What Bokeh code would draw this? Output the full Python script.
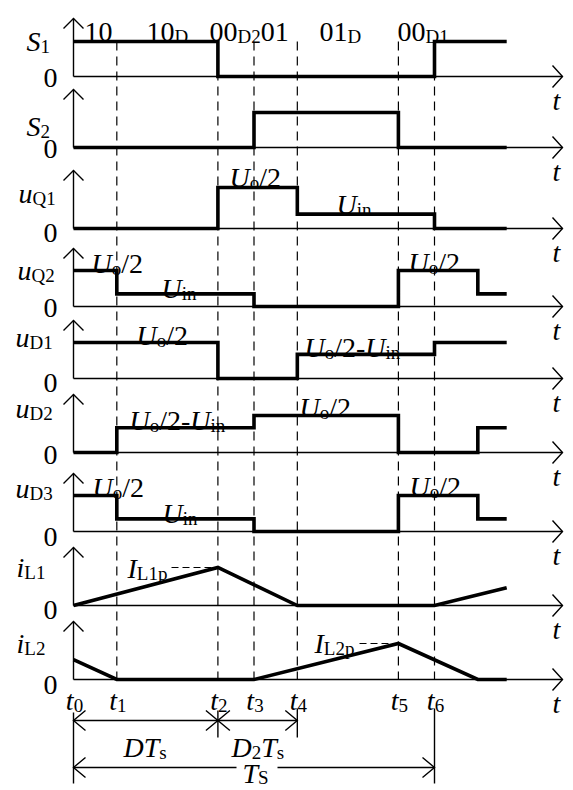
import re
from bokeh.plotting import figure
from bokeh.models import Range1d, ColumnDataSource
from bokeh.core.properties import value
from bokeh.embed import file_html
from bokeh.resources import INLINE

# ------------------------------------------------------------------ data
# switching instants t0..t6, then the unlabeled t7 and the end of the trace
t_names = ["0", "1", "2", "3", "4", "5", "6"]
t_pts = [0.0, 0.12, 0.40, 0.50, 0.62, 0.90, 1.00, 1.12, 1.20]

Uo2 = 1.0     # Uo/2
Uin = 0.35    # Uin
Udf = 0.67    # Uo/2 - Uin

# levels for each interval [t_k, t_k+1]
S1 = [1, 1, 0, 0, 0, 0, 1, 1]
S2 = [0, 0, 0, 1, 1, 0, 0, 0]
uQ1 = [0, 0, Uo2, Uo2, Uin, Uin, 0, 0]
uQ2 = [Uo2, Uin, Uin, 0, 0, Uo2, Uo2, Uin]
uD1 = [Uo2, Uo2, 0, 0, Udf, Udf, Uo2, Uo2]
uD2 = [0, Udf, Udf, Uo2, Uo2, 0, 0, Udf]
uD3 = [Uo2, Uin, Uin, 0, 0, Uo2, Uo2, Uin]

iL1_t = [0.0, 0.40, 0.62, 1.00, 1.20]
iL1 = [0.0, 1.0, 0.0, 0.0, 0.47]
iL2_t = [0.0, 0.12, 0.50, 0.90, 1.12, 1.20]
iL2 = [0.55, 0.0, 0.0, 1.0, 0.0, 0.0]

mode_labels = ["10", "10_{D}", "00_{D2}01", "01_{D}", "00_{D1}"]
row_labels = ["S_{1}", "S_{2}", "u_{Q1}", "u_{Q2}", "u_{D1}", "u_{D2}", "u_{D3}", "i_{L1}", "i_{L2}"]
step_rows = [S1, S2, uQ1, uQ2, uD1, uD2, uD3]

# ------------------------------------------------------------------ layout (page pixels)
X0, KX = 73.0, 361.0          # page x of t0, pixels per unit time
def tx(px):
    return (px - X0) / KX

W, H = 573, 790
base = [76, 147, 228, 306, 378, 452, 531, 605, 679]
amp = [35, 35, 41, 36, 36, 37, 36, 38, 36]
label_y = [41, 126, 193, 270, 337, 408, 488, 567, 643]
label_x = [26, 26, 18, 17, 15, 15, 15, 16, 16]
zero_y = [77, 148, 232, 307, 382, 454, 536, 609, 684]
AX_H = 58
AX_END = 562

FONT = value("Liberation Serif")
FS, SS = 28, 19
BLACK = "#000000"

p = figure(width=W, height=H, x_range=Range1d(tx(0), tx(W)),
           y_range=Range1d(H, 0), output_backend="svg", toolbar_location=None,
           min_border=0, x_axis_type=None, y_axis_type=None,
           outline_line_color=None, background_fill_color="white")
p.xgrid.visible = False
p.ygrid.visible = False

# ------------------------------------------------------------------ dashed guides
gx, gy = [], []
for k in range(1, 7):
    gx.append([t_pts[k], t_pts[k]])
    gy.append([41, base[-1]])
p.multi_line(gx, gy, line_color=BLACK, line_width=1.2, line_dash="9 6")

# ------------------------------------------------------------------ axes
def head(xt, y, direction, L=10, Hh=10):
    d = L / KX
    if direction == "up":
        e = Hh / KX
        return [xt - e, xt, xt + e], [y + L, y, y + L]
    if direction == "right":
        return [xt - d, xt, xt - d], [y - Hh, y, y + Hh]
    if direction == "left":
        return [xt + d, xt, xt + d], [y - Hh, y, y + Hh]

ax_x, ax_y = [], []
for b in base:
    ax_x.append([0, 0]); ax_y.append([b, b - AX_H])
    ax_x.append([0, tx(AX_END)]); ax_y.append([b, b])
    hx, hy = head(0, b - AX_H, "up", 10, 10)
    ax_x.append(hx); ax_y.append(hy)
    hx, hy = head(tx(AX_END), b, "right", 10, 11)
    ax_x.append(hx); ax_y.append(hy)
p.multi_line(ax_x, ax_y, line_color=BLACK, line_width=1.4, line_join="miter")

# ------------------------------------------------------------------ waveforms
for r, lev in enumerate(step_rows):
    ys = [base[r] - amp[r] * v for v in lev] + [base[r] - amp[r] * lev[-1]]
    p.step(t_pts, ys, mode="after", line_color=BLACK, line_width=3.6, line_join="miter")

for r, (tt, vv) in zip([7, 8], [(iL1_t, iL1), (iL2_t, iL2)]):
    p.line(tt, [base[r] - amp[r] * v for v in vv], line_color=BLACK, line_width=3.6,
           line_join="miter")

# peak markers
pk_x = [[tx(171), iL1_t[1]], [tx(359), iL2_t[3]]]
pk_y = [[base[7] - amp[7] * iL1[1]] * 2, [base[8] - amp[8] * iL2[3]] * 2]
p.multi_line(pk_x, pk_y, line_color=BLACK, line_width=1.2, line_dash="7 4")

# ------------------------------------------------------------------ dimension lines
t0, t2, t4, t6 = t_pts[0], t_pts[2], t_pts[4], t_pts[6]
dx, dy = [], []
dx.append([t0, t4]); dy.append([720, 720])
dx.append([t0, tx(236)]); dy.append([767, 767])
dx.append([tx(277), t6]); dy.append([767, 767])
for xt, y1, y2 in [(t0, 712, 783), (t2, 710, 737), (t4, 708, 737), (t6, 708, 783)]:
    dx.append([xt, xt]); dy.append([y1, y2])
for xt, y, d in [(t0, 720, "left"), (t2, 720, "right"), (t2, 720, "left"),
                 (t4, 720, "right"), (t0, 767, "left"), (t6, 767, "right")]:
    hx, hy = head(xt, y, d, 12, 10)
    dx.append(hx); dy.append(hy)
p.multi_line(dx, dy, line_color=BLACK, line_width=1.4, line_join="miter")

# ------------------------------------------------------------------ text
RW = {"/": 0.278, "-": 0.333, "o": 0.5, "Q": 0.722, "D": 0.722, "L": 0.611,
      "p": 0.5, "n": 0.5, "i": 0.278, "s": 0.389, "S": 0.556, " ": 0.25}
IW = {"S": 0.5, "u": 0.5, "U": 0.722, "i": 0.278, "I": 0.333, "t": 0.278,
      "D": 0.722, "T": 0.556}

def cw(ch, style):
    if ch.isdigit():
        return 0.5
    return IW.get(ch, 0.5) if style == "i" else RW.get(ch, 0.5)

def parse(s):
    segs = []
    for m in re.finditer(r"_\{([^}]*)\}|([A-Za-z]+)|([^A-Za-z_]+)", s):
        if m.group(1) is not None:
            segs.append(("s", m.group(1)))
        elif m.group(2) is not None:
            segs.append(("i", m.group(2)))
        else:
            segs.append(("r", m.group(3)))
    return segs

def seg_w(style, txt):
    size = SS if style == "s" else FS
    return sum(cw(c, style) for c in txt) * size

store = {"i": ([], [], []), "r": ([], [], []), "s": ([], [], [])}

def put(s, x, y, align="left", sub=5):
    segs = parse(s)
    w = sum(seg_w(st, t) for st, t in segs)
    if align == "center":
        x -= w / 2
    elif align == "right":
        x -= w
    for st, t in segs:
        xs, ys, ts = store[st]
        xs.append(tx(x)); ys.append(y + (sub if st == "s" else 0)); ts.append(t)
        x += seg_w(st, t)

# operating-mode labels on top
for s, x in zip(mode_labels, [84, 146, 209, 319, 397]):
    put(s, x, 31)

# row labels, zeros and t at axis ends
for r in range(9):
    put(row_labels[r], label_x[r], label_y[r])
    put("0", 43, zero_y[r])
    put("t", 552, base[r] + 24)

# level annotations
put("U_{o}/2", 229, 177)
put("U_{in}", 336, 204)
put("U_{o}/2", 91, 263)
put("U_{in}", 161, 288)
put("U_{o}/2", 408, 262)
put("U_{o}/2", 136, 335)
put("U_{o}/2-U_{in}", 304, 347)
put("U_{o}/2-U_{in}", 129, 420)
put("U_{o}/2", 299, 407)
put("U_{o}/2", 92, 487)
put("U_{in}", 162, 513)
put("U_{o}/2", 409, 486)
put("I_{L1p}", 127, 568)
put("I_{L2p}", 314, 643)

# time instants
for k, nm in enumerate(t_names):
    put("t_{%s}" % nm, X0 + KX * t_pts[k] + 1, 700, "center")

put("DT_{s}", 123, 747)
put("D_{2}T_{s}", 231, 747)
put("T_{S}", 242, 773, sub=4)

for st, size, fstyle in [("i", FS, "italic"), ("r", FS, "normal"), ("s", SS, "normal")]:
    xs, ys, ts = store[st]
    src = ColumnDataSource(dict(x=xs, y=ys, text=ts))
    p.text("x", "y", text="text", source=src, text_font=FONT, text_font_size="%dpx" % size,
           text_font_style=fstyle, text_color=BLACK, text_baseline="alphabetic",
           text_align="left")

open("out.html", "w").write(file_html(p, INLINE))
